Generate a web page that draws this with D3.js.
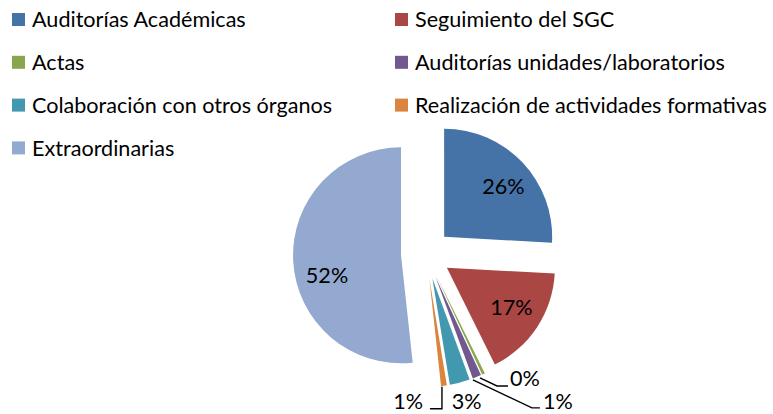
<!DOCTYPE html>
<html><head><meta charset="utf-8">
<script src="https://cdn.jsdelivr.net/npm/d3@7"></script>
<style>
html,body{margin:0;padding:0;background:#fff;}
svg{display:block;font-family:Lato, "Open Sans", sans-serif;}
</style></head>
<body>
<svg id="chart" width="773" height="414"></svg>
<script>
// Data
const categories = ["Auditorías Académicas","Seguimiento del SGC","Actas","Auditorías unidades/laboratorios","Colaboración con otros órganos","Realización de actividades formativas","Extraordinarias"];
const values = [60, 39, 1, 3, 7, 2, 120];
const colors = ["#4572A7","#AA4643","#89A54E","#71588F","#4198AF","#DB843D","#93A9CF"];

// Layout
const W = 773, H = 414;
const cx = 426, cy = 254, R = 108, explode = 25;
const fontSize = 21.6;
const svg = d3.select("#chart");
const total = d3.sum(values);
const fmt = d3.format(".0%");

const pie = d3.pie().sort(null).value(d => d)(values);
const arc = d3.arc().innerRadius(0).outerRadius(R);
const mid = d => (d.startAngle + d.endAngle) / 2;
const off = d => [explode * Math.sin(mid(d)), -explode * Math.cos(mid(d))];

const g = svg.append("g").attr("transform", `translate(${cx},${cy})`);
const slices = g.selectAll("g.slice").data(pie).join("g")
  .attr("class","slice")
  .attr("transform", d => { const o = off(d); return `translate(${o[0]},${o[1]})`; });
slices.append("path").attr("d", arc).attr("fill", (d,i) => colors[i]);

// inside labels for large slices (angle shift in degrees, radius factor)
const insideLabels = {0:{shift:3, rf:0.72}, 1:{shift:-2, rf:0.70}, 6:{shift:-12, rf:0.71}};
slices.filter((d,i) => i in insideLabels).append("text")
  .each(function(d){
    const L = insideLabels[d.index];
    const a = mid(d) + L.shift*Math.PI/180, r = L.rf*R;
    d3.select(this).attr("x", r*Math.sin(a)).attr("y", -r*Math.cos(a) + fontSize*0.36);
  })
  .attr("text-anchor","middle")
  .attr("font-size", fontSize)
  .attr("fill","#000")
  .text(d => fmt(d.value/total));

// outside labels with leader lines (offsets relative to the slice's outer point)
const outside = [
  {i:2, leader:[[-3.5,4],[13.5,12],[24.5,12]], text:[26.5,12], anchor:"start"},
  {i:3, leader:[[-4,3],[55,31],[63,31]], text:[66,32], anchor:"start"},
  {i:4, leader:null, text:[-8,26.4], anchor:"start"},
  {i:5, leader:[[-2,1],[-2,23],[-14,23]], text:[-21,23], anchor:"end"}
];
outside.forEach(o => {
  const d = pie[o.i];
  const ofs = off(d);
  const px = ofs[0] + R*Math.sin(mid(d)), py = ofs[1] - R*Math.cos(mid(d));
  if (o.leader) {
    g.append("path")
      .attr("d", d3.line()(o.leader.map(p => [px+p[0], py+p[1]])))
      .attr("fill","none").attr("stroke","#000").attr("stroke-width",1.4);
  }
  g.append("text")
    .attr("x", px + o.text[0]).attr("y", py + o.text[1])
    .attr("text-anchor", o.anchor)
    .attr("font-size", fontSize).attr("fill","#000")
    .text(fmt(d.value/total));
});

// legend
const colX = [12, 395], rowY0 = 19.5, rowStep = 42.8, sq = 13;
const leg = svg.append("g").selectAll("g").data(categories).join("g")
  .attr("transform", (d,i) => `translate(${colX[i%2]},${rowY0 + Math.floor(i/2)*rowStep})`);
leg.append("rect").attr("x",0).attr("y",-sq/2).attr("width",sq).attr("height",sq)
  .attr("fill",(d,i)=>colors[i]);
leg.append("text").attr("x", sq+7).attr("y", fontSize*0.36)
  .attr("font-size", fontSize).attr("fill","#000").text(d=>d);
</script>
</body></html>
